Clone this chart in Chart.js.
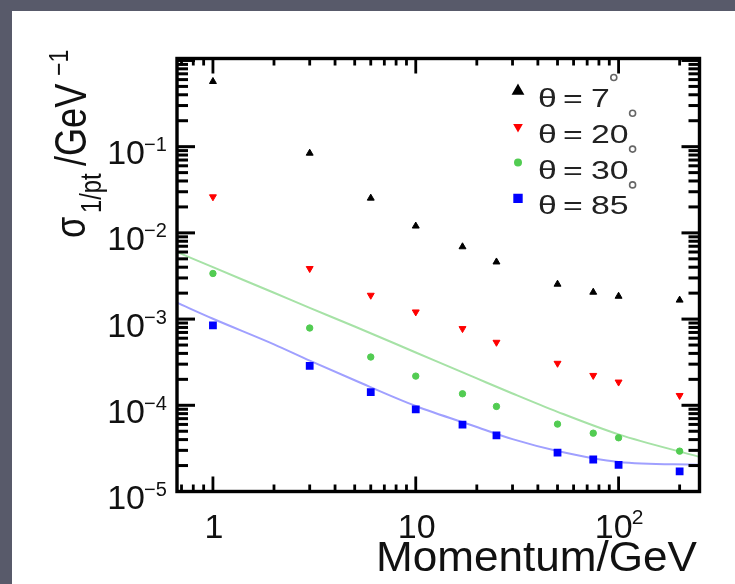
<!DOCTYPE html>
<html>
<head>
<meta charset="utf-8">
<script src="https://cdn.jsdelivr.net/npm/chart.js@4/dist/chart.umd.min.js"></script>
<style>
  html, body { margin: 0; padding: 0; overflow: hidden; background: #ffffff; }
  #c { display: block; }
</style>
</head>
<body>
<canvas id="c" width="735" height="584"></canvas>
<script>
// measured points (momentum in GeV, sigma(1/pt) in 1/GeV)
const momenta = [1, 3, 6, 10, 17, 25, 50, 75, 100, 200];
const sigmaTheta7 = [0.57, 0.084, 0.0253, 0.012, 0.0069, 0.0046, 0.00254, 0.00205, 0.00184, 0.00166];
const sigmaTheta20 = [0.0262, 0.00386, 0.00189, 0.00121, 0.000776, 0.000538, 0.000307, 0.000222, 0.000186, 0.00013];
const sigmaTheta30 = [0.00338, 0.000788, 0.000363, 0.000218, 0.000136, 0.000097, 0.0000605, 0.0000475, 0.000042, 0.0000294];
const sigmaTheta85 = [0.000847, 0.000286, 0.000142, 0.0000896, 0.0000595, 0.0000447, 0.0000282, 0.0000235, 0.0000204, 0.0000171];

// fitted curves
const fitMomenta = [0.665, 1, 2, 3, 5, 10, 20, 30, 50, 100, 250];
const fitTheta30 = [6.0e-3, 4.0e-3, 2.02e-3, 1.35e-3, 8.2e-4, 4.1e-4, 2.05e-4, 1.37e-4, 8.4e-5, 4.6e-5, 2.52e-5];
const fitTheta85 = [1.55e-3, 1.01e-3, 5.1e-4, 3.3e-4, 1.95e-4, 9.8e-5, 5.6e-5, 4.05e-5, 2.95e-5, 2.2e-5, 2.04e-5];

const angles = ['7', '20', '30', '85'];

const xTickValues = [1, 10, 100];
const xTickBase = ['1', '10', '10'];
const xTickExp = ['', '', '2'];
const yTickValues = [1e-1, 1e-2, 1e-3, 1e-4, 1e-5];
const yTickExp = ['\u22121', '\u22122', '\u22123', '\u22124', '\u22125'];

const FONT = '"Liberation Sans", Arial, sans-serif';

function pts(xs, ys) {
  return xs.map((x, i) => ({ x: x, y: ys[i] }));
}

function logTicks(min, max) {
  const out = [];
  const e0 = Math.floor(Math.log10(min)), e1 = Math.ceil(Math.log10(max));
  for (let e = e0; e <= e1; e++) {
    for (let m = 1; m <= 9; m++) {
      const v = m * Math.pow(10, e);
      if (v >= min * 0.999 && v <= max * 1.001) out.push({ v: v, major: m === 1 });
    }
  }
  return out;
}

function drawPower(ctx, base, exp, x, baseline, baseSize, expSize, raise, align) {
  ctx.font = baseSize + 'px ' + FONT;
  const wb = ctx.measureText(base).width;
  ctx.font = expSize + 'px ' + FONT;
  const we = exp ? ctx.measureText(exp).width : 0;
  let left;
  if (align === 'right') left = x - wb;
  else left = x - (wb + we) / 2;
  ctx.textAlign = 'left';
  ctx.textBaseline = 'alphabetic';
  ctx.font = baseSize + 'px ' + FONT;
  ctx.fillText(base, left, baseline);
  if (exp) {
    ctx.font = expSize + 'px ' + FONT;
    ctx.fillText(exp, left + wb - 1, baseline - raise);
  }
}

const panel = {
  id: 'panel',
  beforeDraw(chart) {
    const ctx = chart.ctx;
    ctx.save();
    ctx.fillStyle = '#585a6a';
    ctx.fillRect(0, 0, chart.width, chart.height);
    ctx.fillStyle = '#ffffff';
    ctx.fillRect(12, 11, chart.width - 12, chart.height - 11);
    ctx.restore();
  },
  afterDraw(chart) {
    const ctx = chart.ctx;
    const a = chart.chartArea;
    const x = chart.scales.x, y = chart.scales.y;
    ctx.save();
    ctx.fillStyle = '#000';

    // y ticks, left and right
    logTicks(y.min, y.max).forEach(t => {
      const py = y.getPixelForValue(t.v);
      const len = t.major ? 18 : 11;
      ctx.fillRect(a.left, py - 1.5, len, 3);
      ctx.fillRect(a.right - len, py - 1.5, len, 3);
    });
    // x ticks, bottom and top
    logTicks(x.min, x.max).forEach(t => {
      const px = x.getPixelForValue(t.v);
      const lb = t.major ? 15 : 7;
      ctx.fillRect(px - 1.4, a.bottom - lb, 2.8, lb);
      ctx.fillRect(px - 1.4, a.top, 2.8, lb);
    });

    // frame
    ctx.lineWidth = 3.4;
    ctx.strokeStyle = '#000';
    ctx.strokeRect(a.left, a.top, a.right - a.left, a.bottom - a.top);

    // tick labels
    ctx.fillStyle = '#111';
    yTickValues.forEach((v, i) => {
      const py = y.getPixelForValue(v);
      drawPower(ctx, '10', yTickExp[i], 145, py + 17.5, 34, 20, 13, 'right');
    });
    xTickValues.forEach((v, i) => {
      const px = x.getPixelForValue(v);
      drawPower(ctx, xTickBase[i], xTickExp[i], px + 1, 538, 34, 21, 14, 'center');
    });

    // x title
    ctx.save();
    ctx.font = '42px ' + FONT;
    ctx.textAlign = 'right';
    ctx.translate(697, 571);
    ctx.scale(1.05, 1);
    ctx.fillText('Momentum/GeV', 0, 0);
    ctx.restore();

    // y title, rotated
    function rotText(txt, size, bx, sy) {
      ctx.save();
      ctx.translate(bx, sy);
      ctx.rotate(-Math.PI / 2);
      ctx.scale(0.82, 1);
      ctx.font = size + 'px ' + FONT;
      ctx.textAlign = 'left';
      ctx.fillText(txt, 0, 0);
      ctx.restore();
    }
    rotText('\u03c3', 42, 85, 238);
    rotText('1/pt', 29, 101, 213);
    rotText('/GeV', 44, 86, 166);
    rotText('\u22121', 28, 68, 76);

    // legend
    const sets = chart.data.datasets.slice(0, 4);
    sets.forEach((ds, i) => {
      const base = 107 + i * 35.8;
      const my = base - 16;
      ctx.save();
      ctx.fillStyle = ds.backgroundColor;
      ctx.strokeStyle = ds.borderColor;
      Chart.helpers.drawPoint(ctx, {
        pointStyle: ds.pointStyle, radius: ds.pointRadius,
        rotation: ds.pointRotation || 0, borderWidth: 1
      }, 518, my);
      ctx.restore();

      ctx.fillStyle = '#222';
      ctx.font = '26px ' + FONT;
      ctx.textAlign = 'left';
      const pieces = [['\u03b8', 538], ['=', 563], [angles[i], 591]];
      let end = 0;
      pieces.forEach(p => {
        ctx.save();
        ctx.translate(p[1], base);
        ctx.scale(1.3, 1);
        ctx.fillText(p[0], 0, 0);
        end = p[1] + ctx.measureText(p[0]).width * 1.3;
        ctx.restore();
      });
      ctx.beginPath();
      ctx.lineWidth = 1.6;
      ctx.strokeStyle = '#666';
      ctx.arc(end + 4, base - 29.5, 3, 0, Math.PI * 2);
      ctx.stroke();
    });
    ctx.restore();
  }
};

new Chart(document.getElementById('c'), {
  type: 'scatter',
  data: {
    datasets: [
      { label: '\u03b8 = 7', data: pts(momenta, sigmaTheta7), pointStyle: 'triangle', pointRadius: 4,
        backgroundColor: '#000000', borderColor: '#000000', borderWidth: 1, order: 1 },
      { label: '\u03b8 = 20', data: pts(momenta, sigmaTheta20), pointStyle: 'triangle', pointRotation: 180, pointRadius: 4,
        backgroundColor: '#ff0000', borderColor: '#ff0000', borderWidth: 1, order: 1 },
      { label: '\u03b8 = 30', data: pts(momenta, sigmaTheta30), pointStyle: 'circle', pointRadius: 3.2,
        backgroundColor: '#52cc52', borderColor: '#52cc52', borderWidth: 1, order: 1 },
      { label: '\u03b8 = 85', data: pts(momenta, sigmaTheta85), pointStyle: 'rect', pointRadius: 5.5,
        backgroundColor: '#0000ff', borderColor: '#0000ff', borderWidth: 0, order: 1 },
      { label: 'fit 30', data: pts(fitMomenta, fitTheta30), showLine: true, pointRadius: 0,
        borderColor: '#a6e2a6', borderWidth: 2, cubicInterpolationMode: 'monotone', order: 2 },
      { label: 'fit 85', data: pts(fitMomenta, fitTheta85), showLine: true, pointRadius: 0,
        borderColor: '#a0a0ff', borderWidth: 2, cubicInterpolationMode: 'monotone', order: 2 }
    ]
  },
  options: {
    responsive: false,
    animation: false,
    layout: { padding: { left: 177, top: 58.5, right: 35.5, bottom: 92.5 } },
    scales: {
      x: { type: 'logarithmic', min: 0.665, max: 250.6, display: false },
      y: { type: 'logarithmic', min: 1e-5, max: 1.054, display: false }
    },
    plugins: { legend: { display: false }, tooltip: { enabled: false } }
  },
  plugins: [panel]
});
</script>
</body>
</html>
